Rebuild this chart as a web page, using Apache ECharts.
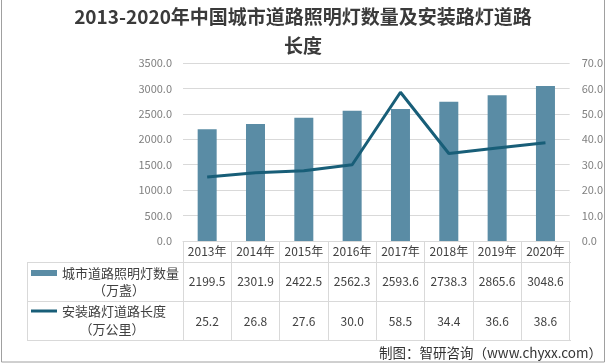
<!DOCTYPE html>
<html><head><meta charset="utf-8">
<script src="https://cdn.jsdelivr.net/npm/echarts@6/dist/echarts.min.js"></script>
<style>html,body{margin:0;padding:0;background:#fff}#c{width:606px;height:364px}</style>
</head><body><div id="c"></div>
<script>
const years = ['2013年','2014年','2015年','2016年','2017年','2018年','2019年','2020年'];
const lamps = [2199.5, 2301.9, 2422.5, 2562.3, 2593.6, 2738.3, 2865.6, 3048.6];
const roads = [25.2, 26.8, 27.6, 30.0, 58.5, 34.4, 36.6, 38.6];
const leftTicks = {min: 0, max: 3500, interval: 500};
const rightTicks = {min: 0, max: 70, interval: 10};
const S1 = '城市道路照明灯数量', S1b = '（万盏）';
const S2 = '安装路灯道路长度', S2b = '（万公里）';
const titleText = '2013-2020年中国城市道路照明灯数量及安装路灯道路\n长度';
const sourceText = '制图：智研咨询（www.chyxx.com）';

const FONT = '"Noto Sans CJK SC", "Noto Sans", sans-serif';
const txt = '#404040', grid = '#d9d9d9';
function tableAxis(offset, lh, fmt, withLine) {
  return {type: 'category', data: years, position: 'bottom', offset: offset,
    axisLine: {show: withLine, lineStyle: {color: grid}},
    axisTick: {show: withLine, interval: 0, length: 99, lineStyle: {color: grid}},
    axisLabel: {interval: 0, margin: 0, fontFamily: FONT, fontSize: 12, color: txt, lineHeight: lh, formatter: fmt}};
}
const chart = echarts.init(document.getElementById('c'));
chart.setOption({
  animation: false,
  textStyle: {fontFamily: FONT},
  title: {text: titleText, left: 'center', top: 2, padding: 0,
    textStyle: {fontSize: 19, fontWeight: 'bold', color: '#3a3a3a', lineHeight: 29, fontFamily: FONT}},
  legend: {orient: 'vertical', left: 31, top: 266, padding: 0, itemWidth: 26, itemHeight: 14, itemGap: 24,
    textStyle: {fontSize: 13, color: txt, lineHeight: 14, fontFamily: FONT},
    data: [{name: S1, icon: 'path://M0 0H26V6H0Z'}, {name: S2, icon: 'path://M0 0H26V3H0Z'}]},
  grid: {left: 183, right: 35, top: 63, bottom: 123},
  xAxis: [
    tableAxis(0, 21, v => v, true),
    tableAxis(21, 39, (v, i) => lamps[i].toFixed(1), false),
    tableAxis(60, 40, (v, i) => roads[i].toFixed(1), false)
  ],
  yAxis: [
    {type: 'value', min: leftTicks.min, max: leftTicks.max, interval: leftTicks.interval,
     axisLabel: {formatter: v => v.toFixed(1), color: '#808080', fontSize: 11, margin: 11, fontFamily: FONT},
     splitLine: {lineStyle: {color: grid}}, axisLine: {show: false}, axisTick: {show: false}},
    {type: 'value', min: rightTicks.min, max: rightTicks.max, interval: rightTicks.interval,
     axisLabel: {formatter: v => v.toFixed(1), color: '#808080', fontSize: 11, margin: 12, fontFamily: FONT},
     splitLine: {show: false}, axisLine: {show: false}, axisTick: {show: false}}
  ],
  series: [
    {name: S1, type: 'bar', data: lamps, barWidth: 19, itemStyle: {color: '#5a8ca5'}},
    {name: S2, type: 'line', yAxisIndex: 1, data: roads, symbol: 'none',
     lineStyle: {width: 3, color: '#185e78'}, itemStyle: {color: '#185e78'}}
  ],
  graphic: [
    {type: 'line', shape: {x1: 27, y1: 262.5, x2: 571, y2: 262.5}, style: {stroke: grid, lineWidth: 1}},
    {type: 'line', shape: {x1: 27, y1: 301.5, x2: 571, y2: 301.5}, style: {stroke: grid, lineWidth: 1}},
    {type: 'line', shape: {x1: 27, y1: 340.5, x2: 571, y2: 340.5}, style: {stroke: grid, lineWidth: 1}},
    {type: 'line', shape: {x1: 27.5, y1: 262, x2: 27.5, y2: 341}, style: {stroke: grid, lineWidth: 1}},
    {type: 'text', x: 119, y: 290, style: {text: S1b, fontSize: 13, fill: txt, fontFamily: FONT, textAlign: 'center', textVerticalAlign: 'middle'}},
    {type: 'text', x: 112, y: 329, style: {text: S2b, fontSize: 13, fill: txt, fontFamily: FONT, textAlign: 'center', textVerticalAlign: 'middle'}},
    {type: 'text', x: 602, y: 353, style: {text: sourceText, fontSize: 13.5, fill: '#333', fontFamily: FONT, textAlign: 'right', textVerticalAlign: 'middle'}},
    {type: 'rect', shape: {x: 1.5, y: -2, width: 603, height: 364}, style: {fill: 'none', stroke: '#a0a0a0', lineWidth: 1}}
  ]
});
</script></body></html>
